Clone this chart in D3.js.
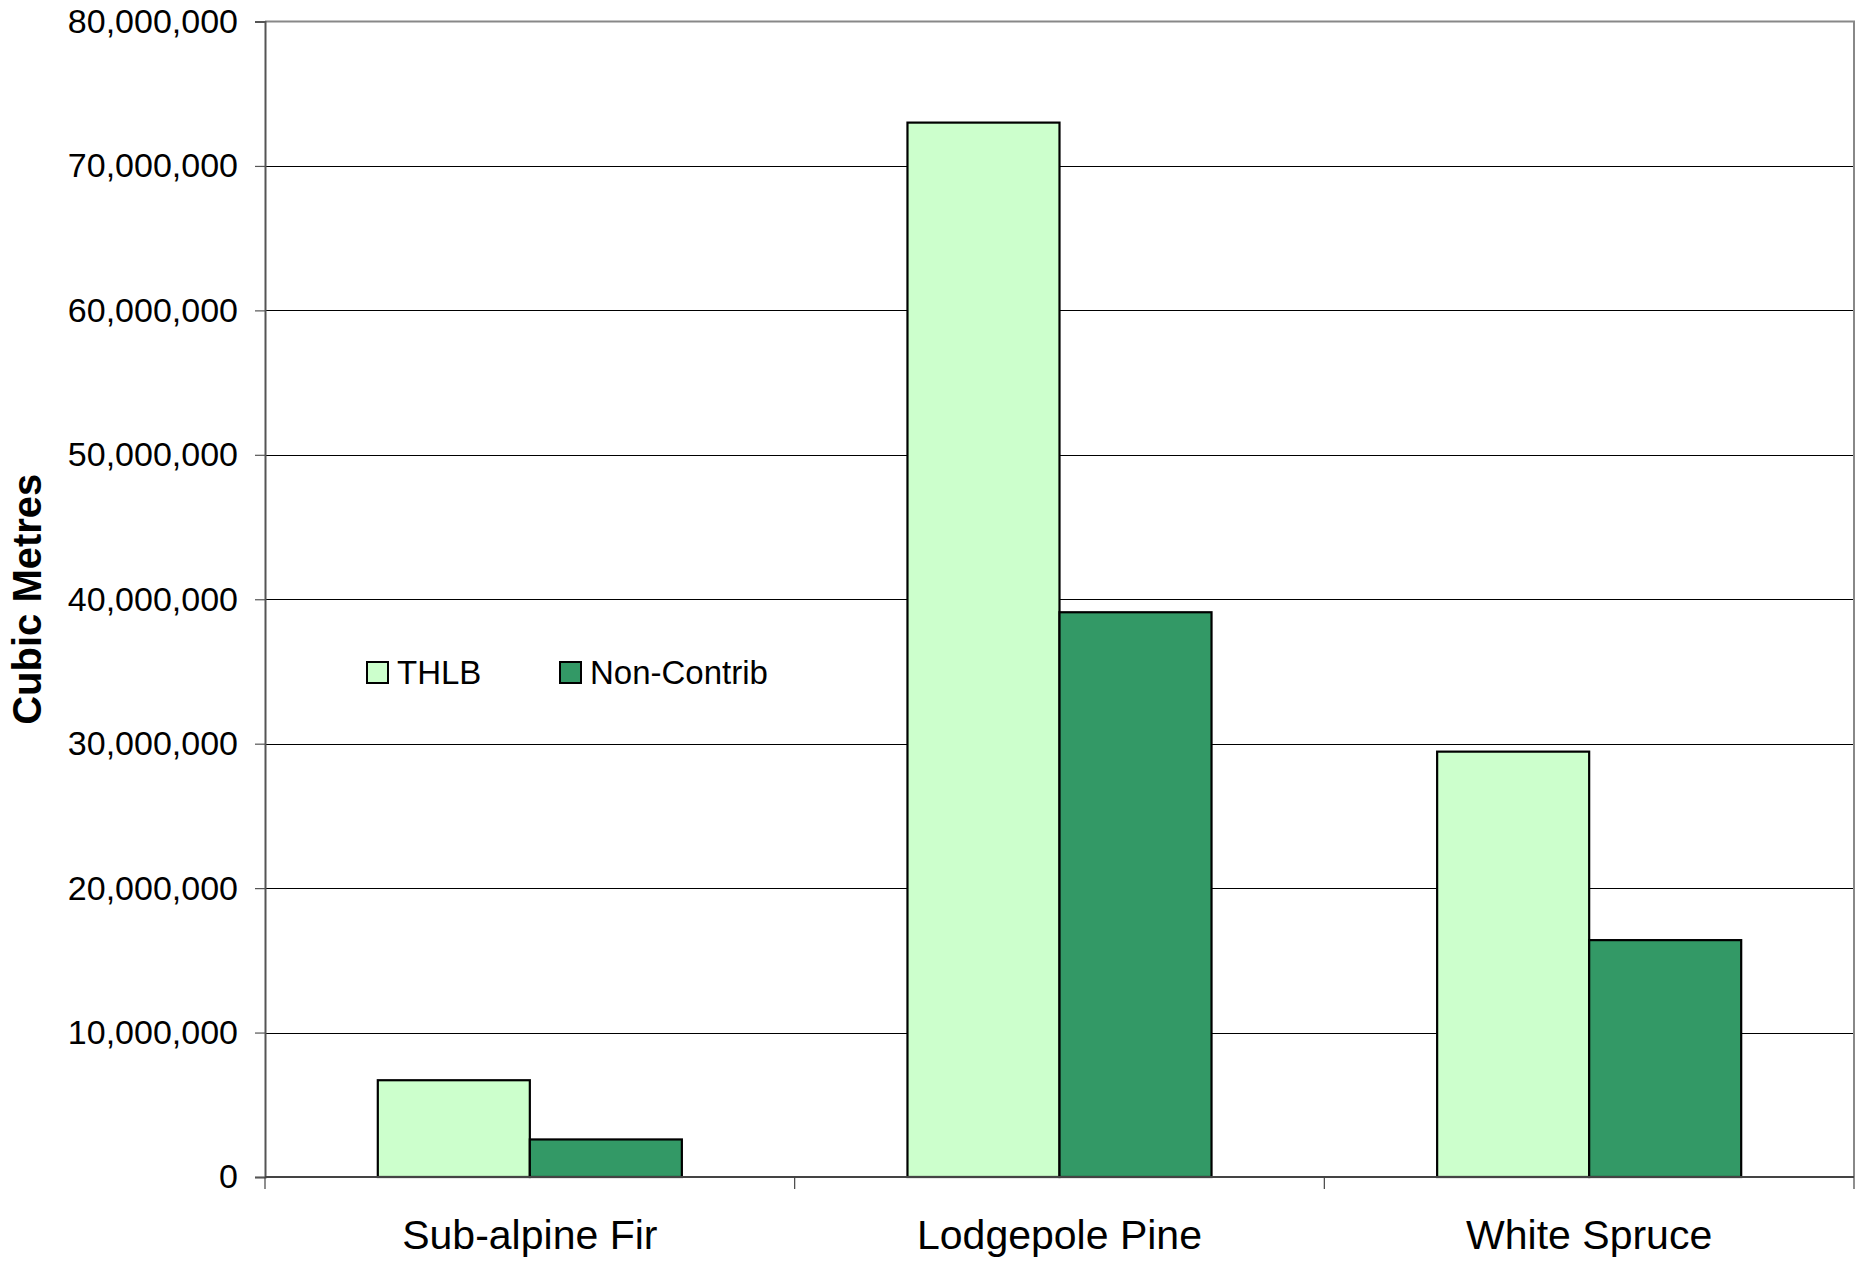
<!DOCTYPE html>
<html>
<head>
<meta charset="utf-8">
<script src="https://cdn.jsdelivr.net/npm/d3@7"></script>
<style>
  html, body { margin: 0; padding: 0; background: #fff; }
  svg { display: block; font-family: "Liberation Sans", Arial, sans-serif; }
</style>
</head>
<body>
<svg id="chart" width="1865" height="1269"></svg>
<script>
// Timber volume by species, split by land base
const categories = ["Sub-alpine Fir", "Lodgepole Pine", "White Spruce"];
const seriesNames = ["THLB", "Non-Contrib"];
const thlb = [6700000, 73000000, 29450000];
const nonContrib = [2600000, 39100000, 16400000];
const yTicks = [0, 10000000, 20000000, 30000000, 40000000, 50000000, 60000000, 70000000, 80000000];
const seriesColors = ["#CCFFCC", "#339966"];

const svg = d3.select("#chart");
const margin = { left: 265, right: 1854, top: 21.5, bottom: 1177 };

const x0 = d3.scaleBand().domain(categories).range([margin.left, margin.right]).padding(0);
const x1 = d3.scaleBand().domain(seriesNames).range([0, x0.bandwidth()])
  .paddingInner(0).paddingOuter(0.742);
const y = d3.scaleLinear().domain([0, 80000000]).range([margin.bottom, margin.top]);

const fmt = d3.format(",");

// Horizontal gridlines
svg.append("g")
  .selectAll("line")
  .data(yTicks.filter(d => d > 0 && d < 80000000))
  .join("line")
  .attr("x1", margin.left).attr("x2", margin.right)
  .attr("y1", d => Math.round(y(d)) + 0.5).attr("y2", d => Math.round(y(d)) + 0.5)
  .attr("stroke", "#000").attr("stroke-width", 1);

// Plot frame (top and right)
svg.append("path")
  .attr("d", `M${margin.left},${y(80000000)}H${margin.right}V${margin.bottom}`)
  .attr("fill", "none").attr("stroke", "#888").attr("stroke-width", 2);

// Bars
const rows = categories.map((c, i) => ({ cat: c, vals: [thlb[i], nonContrib[i]] }));
const groups = svg.append("g").selectAll("g")
  .data(rows)
  .join("g")
  .attr("transform", d => `translate(${x0(d.cat)},0)`);

groups.selectAll("rect")
  .data(d => d.vals.map((v, j) => ({ key: seriesNames[j], v, j })))
  .join("rect")
  .attr("x", d => x1(d.key))
  .attr("width", x1.bandwidth())
  .attr("y", d => y(d.v))
  .attr("height", d => y(0) - y(d.v))
  .attr("fill", d => seriesColors[d.j])
  .attr("stroke", "#000")
  .attr("stroke-width", 2.2);

// Y axis
const yAxis = svg.append("g")
  .attr("transform", `translate(${margin.left},0)`)
  .call(d3.axisLeft(y).tickValues(yTicks).tickFormat(fmt).tickSize(10).tickPadding(17));
yAxis.select(".domain").attr("stroke", "#555").attr("stroke-width", 2);
yAxis.selectAll(".tick line").attr("stroke", "#555").attr("stroke-width", 1.2);
yAxis.selectAll(".tick text")
  .attr("font-size", 34).attr("fill", "#000")
  .attr("font-family", "Liberation Sans, Arial, sans-serif");

// X axis with ticks at category boundaries
const xAxis = svg.append("g").attr("transform", `translate(0,${margin.bottom})`);
xAxis.append("line")
  .attr("x1", margin.left).attr("x2", margin.right)
  .attr("y1", 0).attr("y2", 0)
  .attr("stroke", "#444").attr("stroke-width", 2);
const bounds = categories.map(c => x0(c)).concat([x0.range()[1]]);
xAxis.selectAll("line.tk")
  .data(bounds)
  .join("line")
  .attr("class", "tk")
  .attr("x1", d => d).attr("x2", d => d)
  .attr("y1", 0).attr("y2", 12)
  .attr("stroke", "#444").attr("stroke-width", 1.2);
xAxis.selectAll("text")
  .data(categories)
  .join("text")
  .attr("x", d => x0(d) + x0.bandwidth() / 2)
  .attr("y", 72)
  .attr("text-anchor", "middle")
  .attr("font-size", 41)
  .attr("fill", "#000")
  .text(d => d);

// Y axis title
svg.append("text")
  .attr("transform", `translate(41,${(margin.top + margin.bottom) / 2}) rotate(-90)`)
  .attr("text-anchor", "middle")
  .attr("font-size", 40)
  .attr("font-weight", "bold")
  .attr("fill", "#000")
  .text("Cubic Metres");

// Legend
const legendX = [367, 560];
const legend = svg.append("g").selectAll("g")
  .data(seriesNames)
  .join("g")
  .attr("transform", (d, i) => `translate(${legendX[i]},662)`);
legend.append("rect")
  .attr("width", 21).attr("height", 21)
  .attr("fill", (d, i) => seriesColors[i])
  .attr("stroke", "#000").attr("stroke-width", 2);
legend.append("text")
  .attr("x", 30).attr("y", 22)
  .attr("font-size", 33)
  .attr("fill", "#000")
  .text(d => d);
</script>
</body>
</html>
